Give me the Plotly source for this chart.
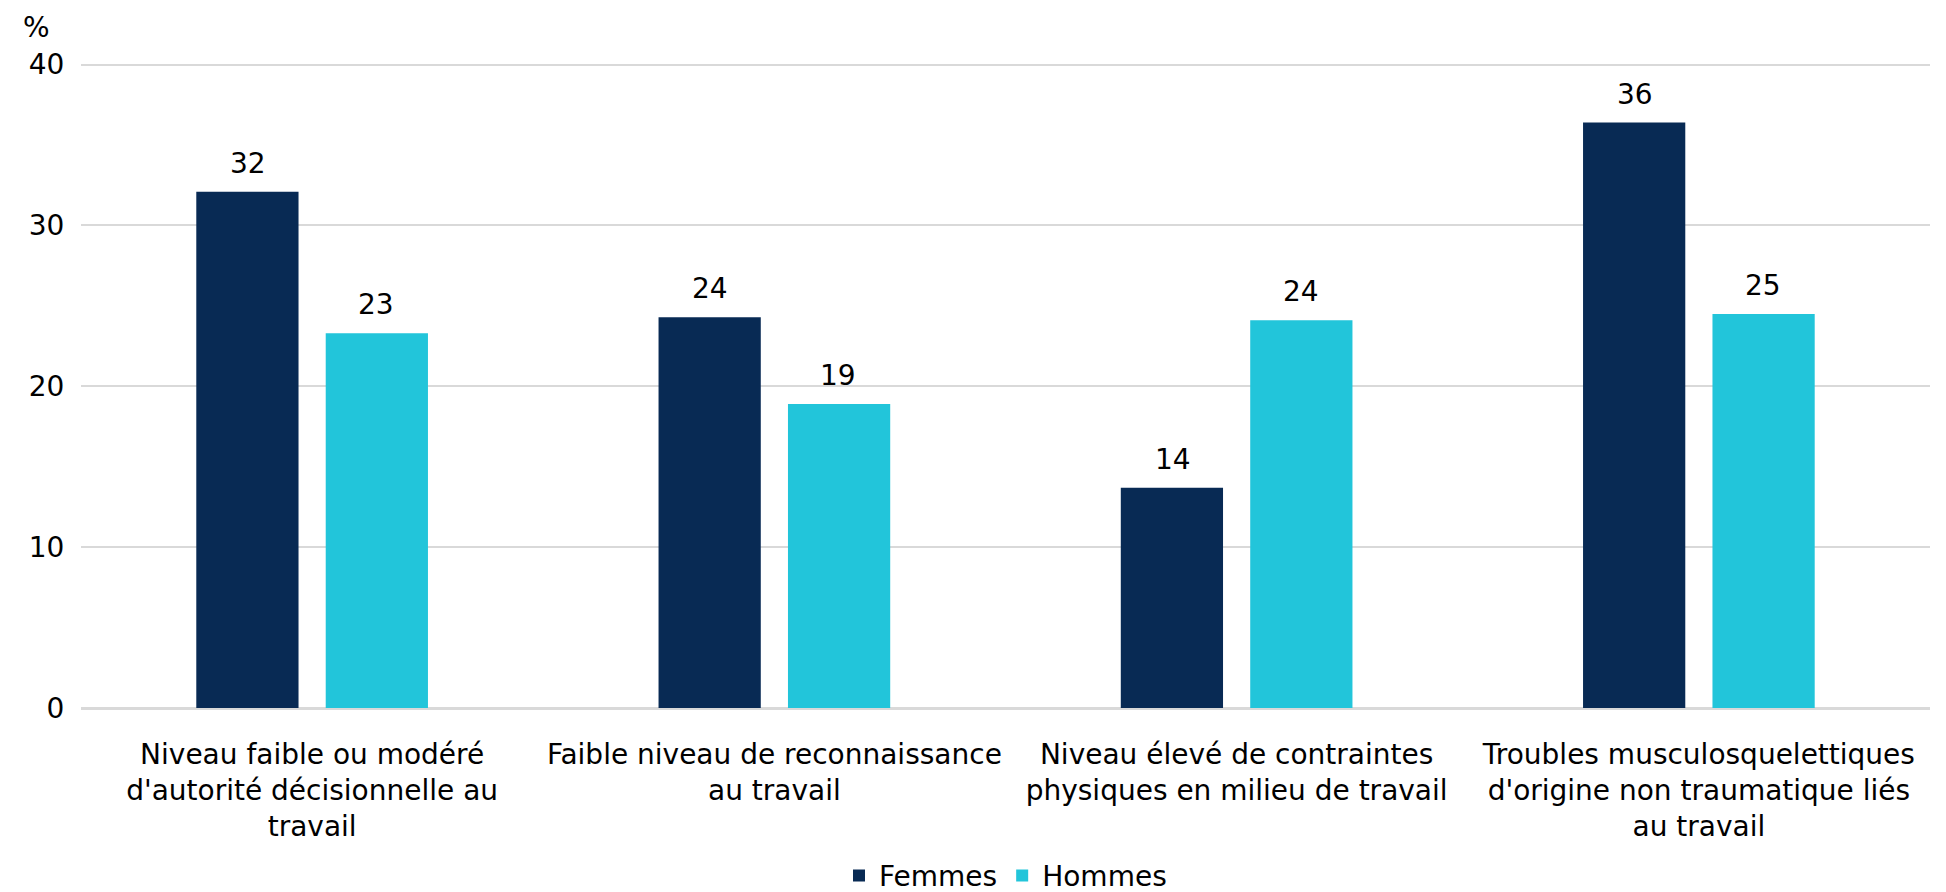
import plotly.graph_objects as go

categories = [
    "Niveau faible ou modéré<br>d'autorité décisionnelle au<br>travail",
    "Faible niveau de reconnaissance<br>au travail",
    "Niveau élevé de contraintes<br>physiques en milieu de travail",
    "Troubles musculosquelettiques<br>d'origine non traumatique liés<br>au travail",
]
femmes = [32.1, 24.3, 13.7, 36.4]
hommes = [23.3, 18.9, 24.1, 24.5]
femmes_labels = ["32", "24", "14", "36"]
hommes_labels = ["23", "19", "24", "25"]

font = "DejaVu Sans"
size = 28

fig = go.Figure()
fig.add_bar(x=categories, y=femmes, name="Femmes", marker_color="#082A54")
fig.add_bar(x=categories, y=hommes, name="Hommes", marker_color="#22C5DA")
fig.update_traces(marker_line_width=0)

# value labels above bars
annots = []
for vals, labels, shift in [(femmes, femmes_labels, -64), (hommes, hommes_labels, 64)]:
    for c, v, t in zip(categories, vals, labels):
        annots.append(dict(x=c, y=v, text=t, xshift=shift, yshift=10, yanchor="bottom",
                           showarrow=False, font=dict(size=size, color="#000000")))
annots.append(dict(text="%", xref="paper", yref="paper", x=-0.024, y=1.084,
                   xanchor="center", yanchor="top", showarrow=False,
                   font=dict(size=size)))

# page body has an 8px margin, so the figure is a bit smaller than the window
fig.update_layout(
    width=1938, height=884,
    margin=dict(l=73, r=16, t=55, b=184, autoexpand=False),
    paper_bgcolor="white", plot_bgcolor="white",
    font=dict(family=font, size=size, color="#000000"),
    barmode="group", bargap=0.44, bargroupgap=0.21,
    legend=dict(orientation="h", x=0.5, xanchor="center", y=-0.26, yanchor="middle",
                font=dict(size=size), traceorder="normal"),
    xaxis=dict(showgrid=False, ticks="outside", ticklen=20, tickcolor="rgba(0,0,0,0)",
               showline=True, linecolor="#D9D9D9", linewidth=2, automargin=False),
    yaxis=dict(range=[0, 40.1], tickvals=[0, 10, 20, 30, 40], showgrid=True,
               gridcolor="#D9D9D9", gridwidth=2,
               zeroline=True, zerolinecolor="#D9D9D9", zerolinewidth=2,
               ticks="outside", ticklen=10, tickcolor="rgba(0,0,0,0)", automargin=False),
    annotations=annots,
)

fig.write_html("out.html")
